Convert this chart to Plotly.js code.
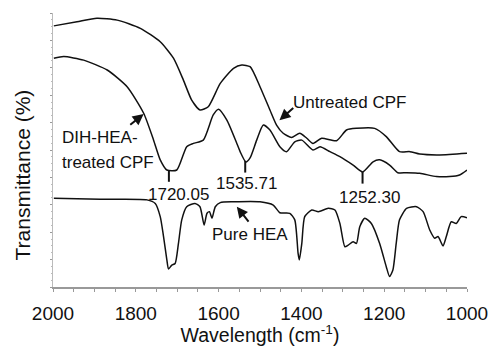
<!DOCTYPE html>
<html><head><meta charset="utf-8">
<script src="https://cdn.plot.ly/plotly-3.0.1.min.js"></script>
<style>html,body{margin:0;padding:0;background:#fff}#g{width:495px;height:346px}</style>
</head><body><div id="g"></div>
<script>
// Untreated CPF
const untreatedX = [1998,1942,1894,1845,1789,1741,1709,1685,1665,1645,1625,1596,1564,1544,1524,1500,1476,1460,1444,1424,1404,1387,1372,1351,1315,1291,1267,1223,1195,1163,1138,1114,1066,1000];
const untreatedY = [95.3,96.8,98.1,97.4,94.4,89.5,83.5,75.5,68.2,64.6,65.8,74.3,79.8,81.0,80.4,73.1,64.6,59.1,56.1,54.6,56.1,54.3,52.4,54.3,53.4,57.3,57.9,57.9,54.9,49.4,49.4,48.5,48.2,48.8];
// DIH-HEA-treated CPF
const treatedX = [1998,1974,1926,1869,1821,1781,1757,1741,1725,1701,1677,1661,1637,1613,1600,1580,1556,1548,1534,1524,1508,1492,1476,1452,1436,1416,1399,1372,1355,1331,1307,1275,1252,1227,1211,1187,1167,1146,1114,1074,1042,1018,1000];
const treatedY = [83.5,84.1,82.8,79.2,73.1,63.4,53.6,46.4,42.7,42.7,51.2,52.4,53.6,62.8,64.9,60.9,52.4,49.4,45.6,47.1,53.6,59.1,57.3,51.2,49.4,53.0,53.6,50.0,51.2,49.4,47.6,44.5,42.0,45.7,46.4,44.5,41.7,41.7,41.5,40.3,40.3,40.9,42.7];
// Pure HEA
const pureX = [1998,1886,1773,1753,1741,1733,1725,1721,1713,1705,1697,1689,1677,1657,1645,1635,1628,1622,1616,1608,1596,1564,1500,1468,1452,1428,1416,1408,1405,1399,1392,1375,1359,1335,1319,1307,1295,1287,1275,1267,1259,1247,1231,1211,1195,1187,1179,1171,1163,1146,1122,1106,1090,1078,1070,1058,1050,1038,1026,1014,1000];
const pureY = [32.4,32.0,31.8,30.5,25.7,18.4,9.9,6.6,8.0,8.6,15.9,24.5,29.3,30.5,29.3,22.6,26.9,27.5,25.1,29.3,30.8,31.1,31.1,29.9,27.1,26.9,24.5,12.3,9.9,15.9,25.7,28.1,27.5,28.7,28.1,23.2,14.7,15.3,16.5,15.9,22.0,25.1,23.2,15.9,7.4,3.8,6.2,15.9,24.5,28.7,29.3,27.5,20.8,17.8,18.4,15.0,18.4,23.8,23.2,25.7,25.3];

const peakPos = [1720.05, 1535.71, 1252.30];
const peakLabels = ['1720.05', '1535.71', '1252.30'];
const xTickVals = [2000, 1800, 1600, 1400, 1200, 1000];

const FONT = 'Arial, "Liberation Sans", Helvetica, sans-serif';
const lineStyle = {color: '#111', width: 1.5, shape: 'spline', smoothing: 0.6};

function interp(xs, ys, x) {
  for (let i = 0; i < xs.length - 1; i++) {
    const a = xs[i], b = xs[i + 1];
    if ((x <= a && x >= b) || (x >= a && x <= b)) {
      const t = (x - a) / (b - a);
      return ys[i] + t * (ys[i + 1] - ys[i]);
    }
  }
  return ys[ys.length - 1];
}

const traces = [
  {x: untreatedX, y: untreatedY, mode: 'lines', line: lineStyle, hoverinfo: 'skip'},
  {x: treatedX, y: treatedY, mode: 'lines', line: lineStyle, hoverinfo: 'skip'},
  {x: pureX, y: pureY, mode: 'lines', line: lineStyle, hoverinfo: 'skip'}
];

const labelY = [33.9, 37.6, 32.8];
const labelShift = [10, 1, 7];
const shapes = peakPos.map(p => {
  const yv = interp(treatedX, treatedY, p);
  return {type: 'line', xref: 'x', yref: 'y', x0: p, x1: p, y0: yv, y1: yv - 4.3,
          line: {color: '#111', width: 2}};
});

const annotations = [];
peakPos.forEach((p, i) => {
  annotations.push({x: p, y: labelY[i], xref: 'x', yref: 'y', text: peakLabels[i],
    showarrow: false, xshift: labelShift[i], font: {family: FONT, size: 17, color: '#111'}});
});
const txt = (t, x, y, xanchor) => ({x, y, xref: 'x', yref: 'y', text: t, showarrow: false,
  xanchor: xanchor || 'center', font: {family: FONT, size: 17, color: '#111'}});
annotations.push(txt('Untreated CPF', 1284, 67.5));
annotations.push(txt('DIH-HEA-', 1984, 54.4, 'left'));
annotations.push(txt('treated CPF', 1984, 45.3, 'left'));
annotations.push(txt('Pure HEA', 1525, 19.0));
const arrow = (x, y, ax, ay) => ({x, y, ax, ay, xref: 'x', yref: 'y', axref: 'x', ayref: 'y',
  text: ' ', showarrow: true, arrowhead: 2, arrowsize: 1.1, arrowwidth: 2, arrowcolor: '#111', standoff: 0,
  font: {size: 1}});
annotations.push(arrow(1453, 60.9, 1416, 65.8));
annotations.push(arrow(1781, 63.1, 1817, 58.8));
annotations.push(arrow(1556, 29.3, 1524, 23.2));
annotations.push({xref: 'paper', yref: 'paper', x: -0.073, y: 0.41, text: 'Transmittance (%)',
  textangle: -90, showarrow: false, xanchor: 'center', yanchor: 'middle',
  font: {family: FONT, size: 21, color: '#111'}});

const layout = {
  width: 495, height: 346,
  margin: {l: 52.5, r: 27.5, t: 13, b: 59},
  paper_bgcolor: '#fff', plot_bgcolor: '#fff',
  showlegend: false,
  xaxis: {range: [2000, 1000], autorange: false, tickvals: xTickVals, ticktext: xTickVals.map(String),
    showgrid: false, zeroline: false, showline: true, linecolor: '#999', linewidth: 1.5,
    ticks: 'outside', ticklen: 3, tickcolor: '#999', ticklabelstandoff: 6,
    minor: {dtick: 50, ticks: 'outside', ticklen: 3, tickcolor: '#999', showgrid: false},
    tickfont: {family: FONT, size: 19, color: '#111'},
    title: {text: 'Wavelength (cm<sup>-1</sup>)', font: {family: FONT, size: 19.5, color: '#111'}, standoff: 5}},
  yaxis: {range: [0, 100], autorange: false, showticklabels: false, showgrid: false, zeroline: false,
    showline: true, linecolor: '#bbb', linewidth: 1, ticks: 'outside', ticklen: 2, tickcolor: '#999', dtick: 10, tick0: 0,
    minor: {dtick: 2.5, ticks: 'outside', ticklen: 1.5, tickcolor: '#bbb', showgrid: false}},
  shapes, annotations
};
Plotly.newPlot('g', traces, layout, {staticPlot: true, displayModeBar: false});
</script></body></html>
